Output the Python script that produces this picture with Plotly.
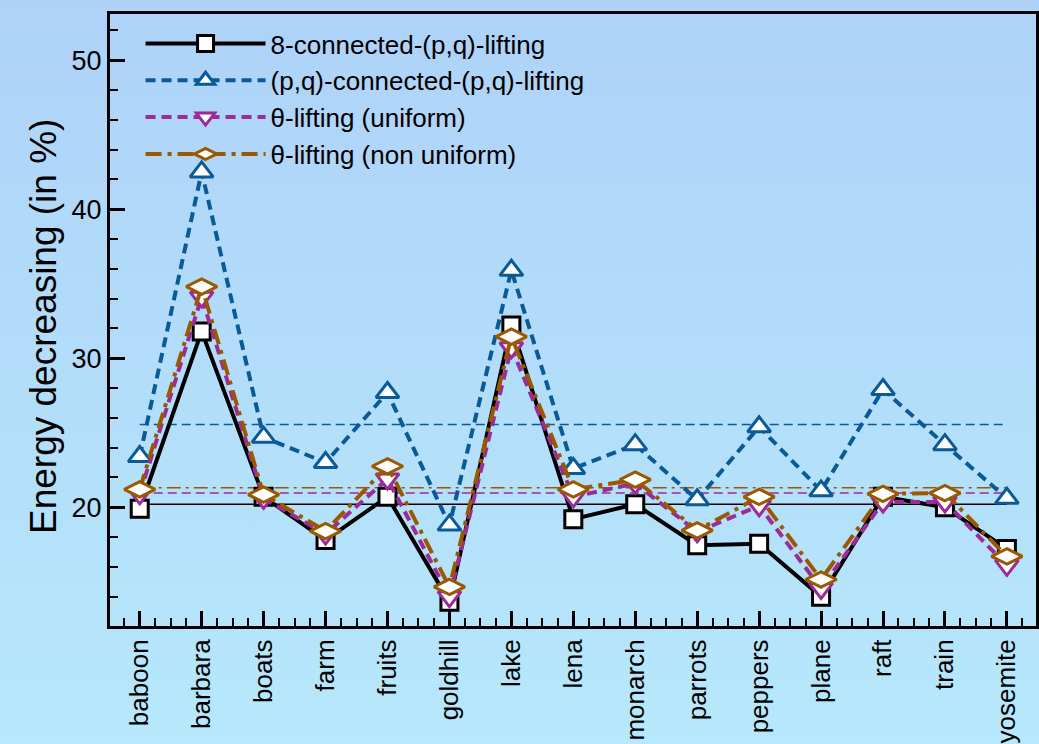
import base64
import plotly.graph_objects as go

categories = ["baboon", "barbara", "boats", "farm", "fruits", "goldhill", "lake", "lena",
              "monarch", "parrots", "peppers", "plane", "raft", "train", "yosemite"]

eight_connected = [19.9, 31.8, 20.7, 17.8, 20.7, 13.65, 32.2, 19.2, 20.2, 17.45, 17.55, 14.0, 20.7, 20.0, 17.2]
pq_connected = [23.4, 42.5, 24.7, 23.0, 27.7, 18.8, 35.9, 22.6, 24.2, 20.5, 25.4, 21.1, 27.9, 24.2, 20.6]
theta_uniform = [20.9, 34.1, 20.6, 18.2, 21.9, 14.0, 30.7, 20.7, 21.6, 18.35, 20.1, 14.55, 20.35, 20.35, 16.1]
theta_nonuniform = [21.2, 34.8, 20.85, 18.4, 22.75, 14.65, 31.45, 21.2, 21.85, 18.45, 20.7, 15.15, 20.9, 20.95, 16.7]

# average reference lines
mean_eight = 20.2
mean_pq = 25.55
mean_uniform = 20.96
mean_nonuniform = 21.3

series_names = ["8-connected-(p,q)-lifting", "(p,q)-connected-(p,q)-lifting",
                "θ-lifting (uniform)", "θ-lifting (non uniform)"]

ytick_vals = [20, 30, 40, 50]

W, H = 1039, 744
ML, MR, MT, MB = 110, 3, 14, 118

BLACK = "#000000"
BLUE = "#0a5a98"
PURPLE = "#9a2b98"
BROWN = "#9b5800"

x = list(range(len(categories)))
xe = [x[0], x[-1]]

fig = go.Figure()

styles = [
    (eight_connected, mean_eight, BLACK, "solid", "solid", "square", 17, series_names[0]),
    (pq_connected, mean_pq, BLUE, "10px,6px", "9px,5px", "triangle-up", 20, series_names[1]),
    (theta_uniform, mean_uniform, PURPLE, "10px,6px", "9px,5px", "triangle-down", 20, series_names[2]),
    (theta_nonuniform, mean_nonuniform, BROWN, "16px,6px,4px,6px", "14px,5px,3px,5px", "diamond-wide", 22, series_names[3]),
]

# mean lines first (under)
for vals, m, col, dash, mdash, sym, sz, name in styles:
    fig.add_trace(go.Scatter(x=xe, y=[m, m], mode="lines", showlegend=False,
                             line=dict(color=col, width=1.5, dash=mdash), hoverinfo="skip"))

for vals, m, col, dash, mdash, sym, sz, name in styles:
    fig.add_trace(go.Scatter(
        x=x, y=vals, mode="lines+markers", name=name,
        line=dict(color=col, width=4, dash=dash),
        marker=dict(symbol=sym, size=sz, color="white", line=dict(color=col, width=3)),
    ))

svg = f'''<svg xmlns="http://www.w3.org/2000/svg" width="{W}" height="{H}">
<defs><linearGradient id="g" x1="0" y1="0" x2="0" y2="1">
<stop offset="0" stop-color="#aed2f8"/><stop offset="1" stop-color="#b7e8fb"/></linearGradient></defs>
<rect width="{W}" height="{H}" fill="url(#g)"/></svg>'''
src = "data:image/svg+xml;base64," + base64.b64encode(svg.encode()).decode()

pw = W - ML - MR
ph = H - MT - MB

fig.update_layout(
    width=W, height=H,
    margin=dict(l=ML, r=MR, t=MT, b=MB, autoexpand=False),
    paper_bgcolor="#b2ddf9",
    plot_bgcolor="rgba(0,0,0,0)",
    font=dict(family="Liberation Sans, Arial, sans-serif", color="black"),
    images=[dict(source=src, xref="paper", yref="paper", x=-ML / pw, y=1 + MT / ph,
                 sizex=W / pw, sizey=H / ph, sizing="stretch", layer="below")],
    legend=dict(x=0.033, y=0.99, xanchor="left", yanchor="top",
                bgcolor="rgba(0,0,0,0)", borderwidth=0,
                font=dict(size=26), itemwidth=120, tracegroupgap=0),
    showlegend=True,
    annotations=[dict(text="Energy decreasing (in %)", textangle=-90, showarrow=False,
                      xref="paper", yref="paper", x=(43 - ML) / pw, y=(H - MB - 327) / ph,
                      xanchor="center", yanchor="middle", font=dict(size=37))],
)

fig.update_xaxes(
    range=[-0.48, 14.47], tickmode="array", tickvals=x, ticktext=categories,
    tickangle=-90, tickfont=dict(size=26),
    ticks="inside", ticklen=15, tickwidth=3, tickcolor="black",
    minor=dict(dtick=0.25, tick0=0, ticks="inside", ticklen=8, tickwidth=2, tickcolor="black"),
    showline=True, linewidth=3, linecolor="black", mirror=True,
    showgrid=False, zeroline=False, automargin=False,
)
fig.update_yaxes(
    range=[12.03, 53.1], tickmode="array", tickvals=ytick_vals,
    tickfont=dict(size=27),
    ticks="inside", ticklen=15, tickwidth=3, tickcolor="black",
    minor=dict(dtick=2, tick0=0, ticks="inside", ticklen=8, tickwidth=2, tickcolor="black"),
    showline=True, linewidth=3, linecolor="black", mirror=True,
    showgrid=False, zeroline=False, automargin=False,
)

fig.write_html("out.html", config={"displayModeBar": False},
               post_script="document.body.style.margin='0';document.body.style.overflow='hidden';")
